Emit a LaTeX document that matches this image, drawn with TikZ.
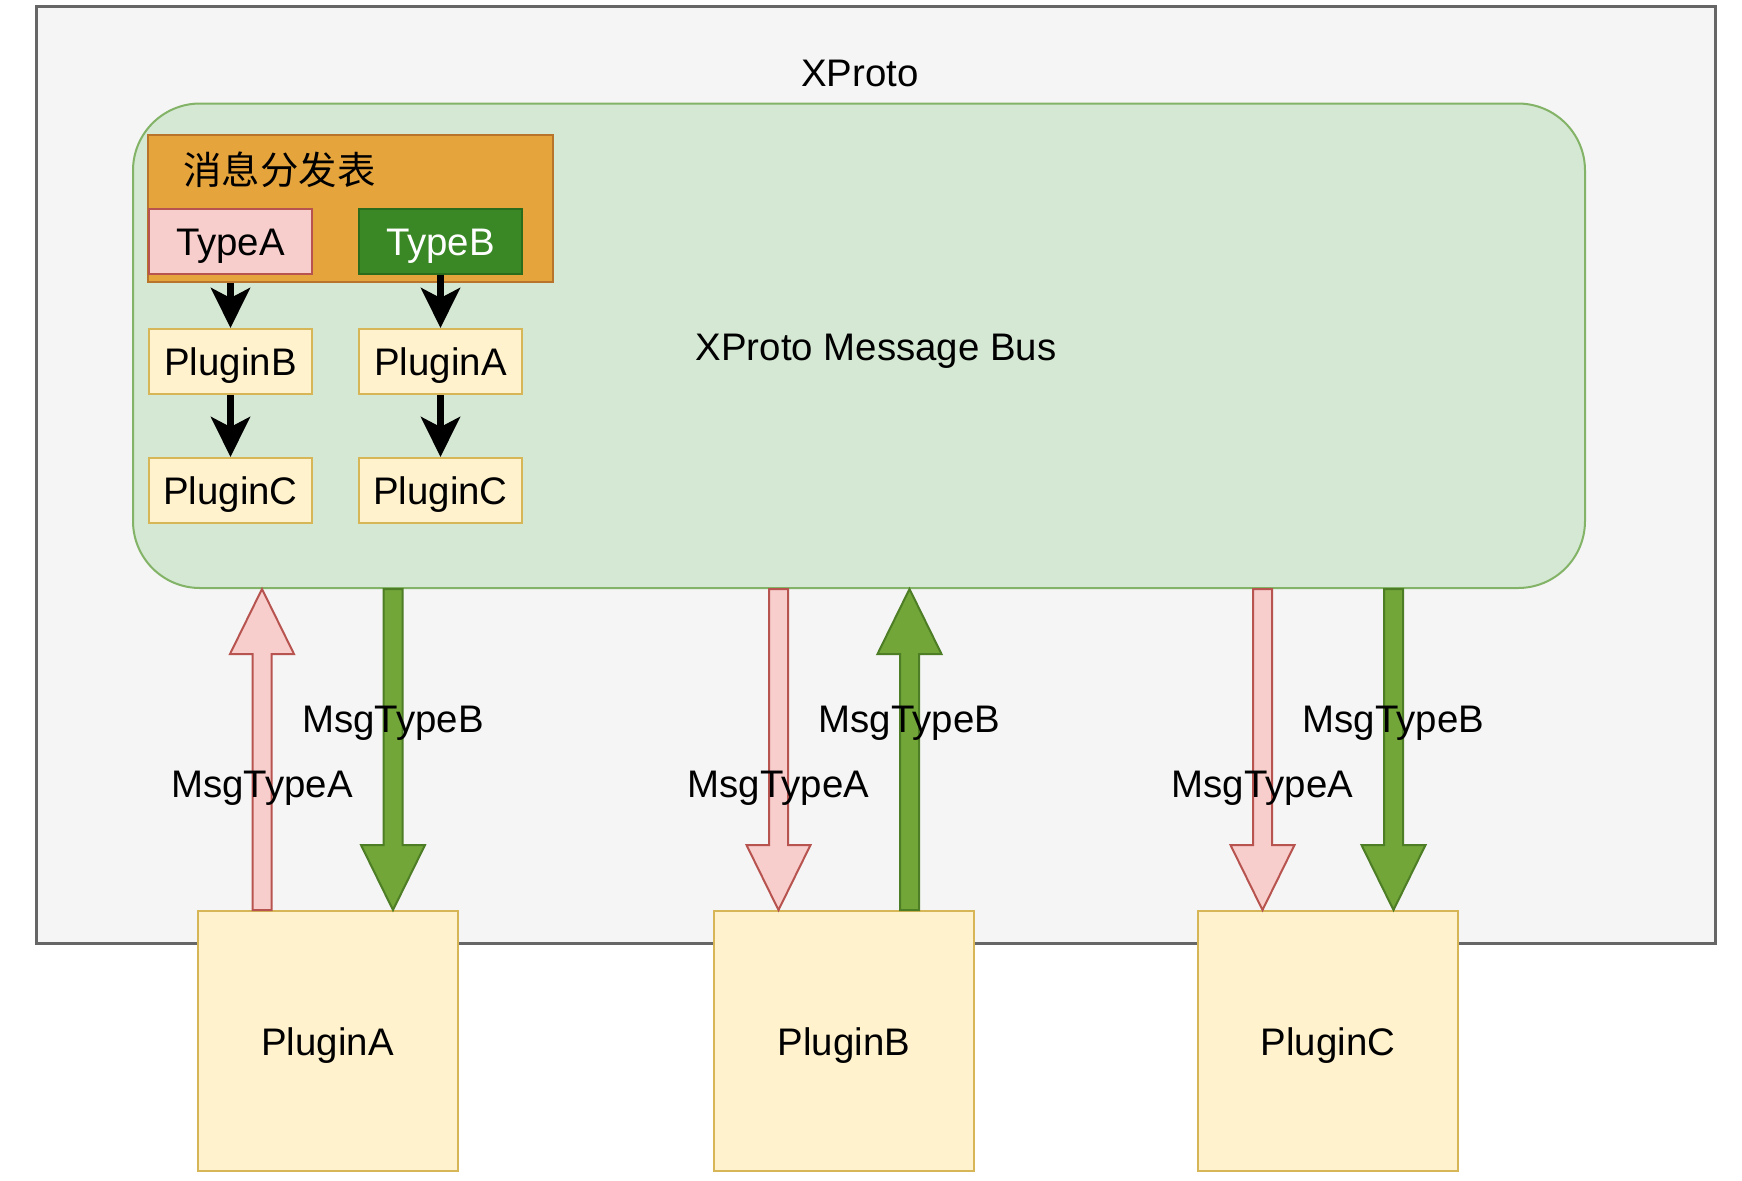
\documentclass[tikz,border=0pt]{standalone}
\usepackage{fontspec}
\setmainfont{Liberation Sans}
\newfontfamily\cjk{Noto Sans CJK SC}
\usetikzlibrary{arrows.meta,calc,positioning}

\definecolor{outerfill}{HTML}{F5F5F5}
\definecolor{outerline}{HTML}{666666}
\definecolor{busfill}{HTML}{D5E8D4}
\definecolor{busline}{HTML}{82B366}
\definecolor{tblfill}{HTML}{E6A43C}
\definecolor{tblline}{HTML}{B8742A}
\definecolor{typeafill}{HTML}{F8CECC}
\definecolor{typealine}{HTML}{B85450}
\definecolor{typebfill}{HTML}{3A8726}
\definecolor{typebline}{HTML}{2B6B1C}
\definecolor{plugfill}{HTML}{FFF2CC}
\definecolor{plugline}{HTML}{D6B656}
\definecolor{greenfill}{HTML}{72A638}
\definecolor{greenline}{HTML}{4D7D25}

\tikzset{
  lbl/.style={text height=18.4pt,text depth=4pt},
  entry/.style={lbl,rectangle,line width=1pt,inner sep=0pt,
                minimum width=81.5pt,minimum height=32.5pt},
  typea/.style={entry,draw=typealine,fill=typeafill},
  typeb/.style={entry,draw=typebline,fill=typebfill,text=white},
  plug/.style={entry,draw=plugline,fill=plugfill},
  bigplug/.style={plug,minimum width=130pt,minimum height=130pt},
  flow/.style={line width=3.2pt,-{Stealth[length=20pt,width=19.5pt,inset=5pt]}},
  pinkarrow/.style={draw=typealine,fill=typeafill,line width=1pt},
  greenarrow/.style={draw=greenline,fill=greenfill,line width=1pt},
}

% block arrow from #2 to #3
\newcommand\busarrow[3]{%
  \coordinate (ha) at ($#3!32.5pt!#2$);
  \draw[#1] ($#2!4.75pt!90:#3$) -- ($(ha)!4.75pt!90:#3$)
    -- ($(ha)!16pt!90:#3$) -- #3 -- ($(ha)!16pt!-90:#3$)
    -- ($(ha)!4.75pt!-90:#3$) -- ($#2!4.75pt!-90:#3$) -- cycle;
}

\begin{document}
\begin{tikzpicture}[x=0.5pt,y=-0.5pt,font=\fontsize{19.2pt}{23pt}\selectfont]

  \useasboundingbox (0,0) rectangle (1742,1180);

  % frame and bus
  \node[draw=outerline,fill=outerfill,line width=1.5pt,inner sep=0pt,
        minimum width=839.25pt,minimum height=468.25pt] (xproto) at (875.75,474.75) {};
  \node (xtitle) at (860,73.5) {XProto};

  \node[draw=busline,fill=busfill,line width=1pt,rounded corners=33.5pt,inner sep=0pt,
        minimum width=726pt,minimum height=242.25pt] (bus) at (859,345.75) {};
  \node[lbl] (buslbl) at (876,346) {XProto Message Bus};

  % dispatch table
  \node[draw=tblline,fill=tblfill,line width=1pt,inner sep=0pt,
        minimum width=202.5pt,minimum height=73.5pt] (tbl) at (350.5,208.5) {};
  \node[anchor=west,inner sep=0pt] (tbltitle) at (183,170) {\cjk 消息分发表};

  \node[typea] (tA) at (230.5,241) {TypeA};
  \node[typeb] (tB) at (440.5,241) {TypeB};

  \node[plug] (aPlugB) at (230.5,361.5) {PluginB};
  \node[plug] (aPlugC) at (230.5,490.5) {PluginC};
  \node[plug] (bPlugA) at (440.5,361.5) {PluginA};
  \node[plug] (bPlugC) at (440.5,490.5) {PluginC};

  \draw[flow] (tbl.south -| aPlugB) -- (aPlugB);
  \draw[flow] (aPlugB) -- (aPlugC);
  \draw[flow] (tB) -- (bPlugA);
  \draw[flow] (bPlugA) -- (bPlugC);

  % plugins
  \node[bigplug] (pA) at (327.5,1041) {PluginA};
  \node[bigplug] (pB) at (844,1041) {PluginB};
  \node[bigplug] (pC) at (1328,1041) {PluginC};

  \foreach \p in {pA,pB,pC} {
    \coordinate (\p1) at ($(\p.north west)!.25!(\p.north east)$);
    \coordinate (\p2) at ($(\p.north west)!.75!(\p.north east)$);
    \coordinate (\p1b) at (bus.south -| \p1);
    \coordinate (\p2b) at (bus.south -| \p2);
  }

  \busarrow{pinkarrow}{(pA1)}{(pA1b)}
  \busarrow{greenarrow}{(pA2b)}{(pA2)}
  \busarrow{pinkarrow}{(pB1b)}{(pB1)}
  \busarrow{greenarrow}{(pB2)}{(pB2b)}
  \busarrow{pinkarrow}{(pC1b)}{(pC1)}
  \busarrow{greenarrow}{(pC2b)}{(pC2)}

  \foreach \p in {pA,pB,pC} {
    \node[lbl] (lblA\p) at ($(\p1b)!.604!(\p1)$) {MsgTypeA};
    \node[lbl] (lblB\p) at ($(\p2b)!.402!(\p2)$) {MsgTypeB};
  }

\end{tikzpicture}
\end{document}
